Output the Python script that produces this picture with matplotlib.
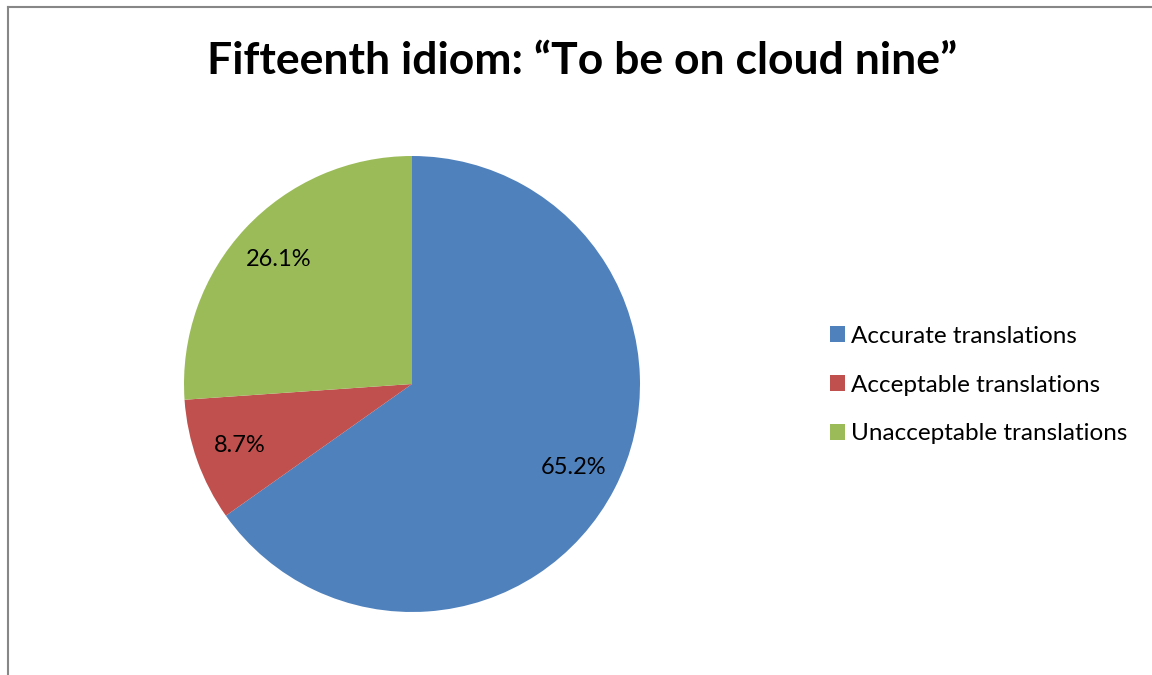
import matplotlib.pyplot as plt
from matplotlib.lines import Line2D

labels = ["Accurate translations", "Acceptable translations", "Unacceptable translations"]
shares = [65.2, 8.7, 26.1]
colors = ["#4F81BD", "#C0504D", "#9BBB59"]
title = "Fifteenth idiom: \u201cTo be on cloud nine\u201d"

plt.rcParams['font.family'] = ['Lato', 'DejaVu Sans']

W, H = 1152, 675
fig = plt.figure(figsize=(W / 100, H / 100), dpi=100)

# pie centre and radius in pixels
cx, cy, r = 412, 384, 228
ax = fig.add_axes([(cx - r) / W, (H - cy - r) / H, 2 * r / W, 2 * r / H])
wedges, _, autotexts = ax.pie(shares, colors=colors, startangle=90, counterclock=False,
                              autopct='%.1f%%', pctdistance=0.8,
                              textprops={'fontsize': 17, 'color': 'black'})
ax.set_xlim(-1, 1)
ax.set_ylim(-1, 1)

fig.text(582 / W, 1 - 61 / H, title, ha='center', va='center',
         fontsize=32, fontweight='bold')

fig.legend(wedges, labels, loc='center left', bbox_to_anchor=(808 / W, 1 - 385 / H),
           frameon=False, fontsize=17.5, handlelength=0.62, handleheight=0.62,
           handletextpad=0.25, labelspacing=1.15)

# chart frame: only the top and left edges fall inside the image
fig.add_artist(Line2D([7.5 / W, 1], [1 - 6.5 / H, 1 - 6.5 / H], color='#878787', lw=1.5))
fig.add_artist(Line2D([7.5 / W, 7.5 / W], [0, 1 - 6.5 / H], color='#878787', lw=1.5))

fig.savefig("out.png", dpi=100)
